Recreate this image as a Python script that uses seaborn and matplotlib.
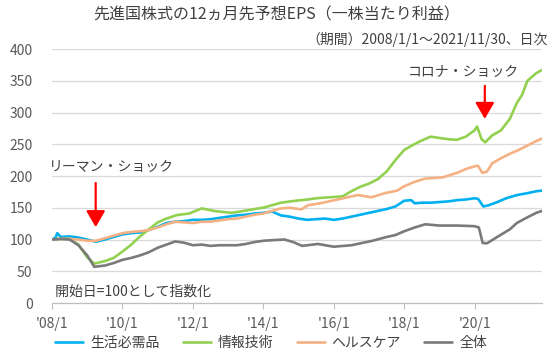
import numpy as np
import pandas as pd
import matplotlib
matplotlib.use("Agg")
import matplotlib.pyplot as plt
import seaborn as sns

# decimal years / index values (2008/1/1 = 100)
t_staples = [2008.0, 2008.1, 2008.15, 2008.25, 2008.5, 2008.75, 2009.0, 2009.25, 2009.5, 2009.75,
             2010.0, 2010.25, 2010.5, 2010.75, 2011.0, 2011.25, 2011.5, 2011.75, 2012.0, 2012.25,
             2012.5, 2012.75, 2013.0, 2013.25, 2013.5, 2013.75, 2014.0, 2014.25, 2014.5, 2014.75,
             2015.0, 2015.25, 2015.5, 2015.75, 2016.0, 2016.25, 2016.5, 2016.75, 2017.0, 2017.25,
             2017.5, 2017.75, 2018.0, 2018.2, 2018.3, 2018.5, 2018.75, 2019.0, 2019.25, 2019.5,
             2019.75, 2020.0, 2020.1, 2020.25, 2020.4, 2020.6, 2020.9, 2021.2, 2021.5, 2021.75, 2021.91]
v_staples = [100, 103, 110, 104, 105, 103, 100, 96.5, 100, 104,
             108, 110, 111, 115, 120, 126, 128, 129, 131, 131,
             132, 134, 136, 138, 139, 141, 142, 144, 138, 136,
             133, 131, 132, 133, 131, 133, 136, 139, 142, 145,
             148, 152, 161, 162, 157, 158, 158, 159, 160, 162,
             163, 165, 164, 152, 154, 158, 165, 170, 173, 176, 177]

t_it = [2008.0, 2008.25, 2008.5, 2008.75, 2009.0, 2009.2, 2009.5, 2009.75,
        2010.0, 2010.25, 2010.5, 2010.75, 2011.0, 2011.25, 2011.55, 2011.9, 2012.25, 2012.6,
        2013.1, 2013.6, 2014.04, 2014.5, 2014.9, 2015.25, 2015.5, 2015.75, 2016.0, 2016.25,
        2016.5, 2016.75, 2017.0, 2017.25, 2017.5, 2017.75, 2018.0, 2018.25, 2018.5, 2018.75,
        2019.0, 2019.25, 2019.5, 2019.75, 2020.0, 2020.07, 2020.2, 2020.3, 2020.5, 2020.75,
        2021.0, 2021.2, 2021.35, 2021.5, 2021.75, 2021.91]
v_it = [100, 101, 101, 92, 72, 62, 66, 71,
        81, 92, 105, 116, 127, 133, 138.6, 141, 149, 145,
        142, 146.5, 150.7, 158, 161, 163, 165, 166, 167, 168,
        176, 183, 188, 195, 207, 225, 241, 249, 256, 262,
        260, 258, 257, 262, 272, 278, 258, 253, 264, 272,
        290, 315, 328, 350, 362, 367]

t_health = [2008.0, 2008.25, 2008.5, 2008.75, 2009.0, 2009.25, 2009.5, 2009.75,
            2010.0, 2010.25, 2010.5, 2010.75, 2011.0, 2011.25, 2011.5, 2011.75, 2012.0, 2012.25,
            2012.5, 2012.75, 2013.0, 2013.25, 2013.5, 2013.75, 2014.0, 2014.25, 2014.5, 2014.75,
            2015.08, 2015.27, 2015.6, 2016.03, 2016.35, 2016.68, 2017.07, 2017.45, 2017.8, 2017.97,
            2018.3, 2018.6, 2018.9, 2019.1, 2019.5, 2019.8, 2020.05, 2020.1, 2020.22, 2020.35,
            2020.5, 2020.75, 2021.0, 2021.25, 2021.5, 2021.75, 2021.91]
v_health = [100, 101, 101, 100, 98, 98, 102, 106,
            110, 112, 113, 115, 119, 124, 128, 127, 126, 128,
            128, 130, 132, 133, 136, 139, 141, 145, 149, 150,
            147.5, 154, 157, 162, 166, 170, 166.5, 173, 177, 183,
            191, 196, 197, 198, 205, 212, 216, 216, 205, 207,
            220, 228, 235, 241, 248, 255, 259]

t_all = [2008.0, 2008.25, 2008.5, 2008.75, 2009.0, 2009.2, 2009.5, 2009.75,
         2010.0, 2010.25, 2010.5, 2010.75, 2011.0, 2011.25, 2011.5, 2011.75, 2012.0, 2012.25,
         2012.5, 2012.75, 2013.0, 2013.25, 2013.5, 2013.75, 2014.0, 2014.25, 2014.6, 2014.85,
         2015.1, 2015.55, 2016.0, 2016.5, 2017.1, 2017.5, 2017.75, 2018.0, 2018.3, 2018.6,
         2019.0, 2019.5, 2020.0, 2020.12, 2020.23, 2020.35, 2020.7, 2021.0, 2021.2, 2021.5,
         2021.75, 2021.91]
v_all = [100, 101, 100, 91, 75, 57, 59, 63,
         68, 71, 75, 80, 87, 92, 97, 95, 91, 92,
         90, 91, 91, 91, 93, 96, 98, 99, 100, 96,
         90, 93, 88.7, 91, 98, 104, 107, 113, 119, 124,
         122, 122, 121, 119, 94.5, 94, 106, 116, 126, 135,
         142, 145]

series_names = ["生活必需品", "情報技術", "ヘルスケア", "全体"]
series_colors = ["#00B0F0", "#92D050", "#F4B183", "#7A7A7A"]

year_ticks = [2008, 2010, 2012, 2014, 2016, 2018, 2020]
year_labels = ["'08/1", "'10/1", "'12/1", "'14/1", "'16/1", "'18/1", "'20/1"]

frames = []
for name, t, v in zip(series_names, [t_staples, t_it, t_health, t_all],
                      [v_staples, v_it, v_health, v_all]):
    frames.append(pd.DataFrame({"year": t, "value": v, "series": name}))
df = pd.concat(frames, ignore_index=True)

sns.set_theme(style="white")
plt.rcParams["font.family"] = ["Noto Sans CJK JP", "DejaVu Sans"]
text_color = "#404040"
tick_color = "#595959"

fig = plt.figure(figsize=(5.51, 3.54), dpi=100)
ax = fig.add_axes([0.0944, 0.144, 0.889, 0.7175])

sns.lineplot(data=df, x="year", y="value", hue="series", hue_order=series_names,
             palette=series_colors, linewidth=1.9, ax=ax, legend=True, estimator=None,
             sort=False)

ax.set_xlim(2008.0, 2021.91)
ax.set_ylim(0, 400)
ax.set_yticks(np.arange(0, 401, 50))
ax.set_xticks(year_ticks)
ax.set_xticklabels(year_labels)
ax.set_xlabel("")
ax.set_ylabel("")
ax.yaxis.grid(True, color="#D9D9D9", linewidth=0.9)
ax.xaxis.grid(False)
for s in ["left", "right", "top"]:
    ax.spines[s].set_visible(False)
ax.spines["bottom"].set_color("#BFBFBF")
ax.spines["bottom"].set_linewidth(0.9)
ax.tick_params(axis="y", length=0, pad=14, labelsize=10, labelcolor=tick_color)
ax.tick_params(axis="x", bottom=True, length=4, width=0.8, color="#BFBFBF", pad=6,
               labelsize=10, labelcolor=tick_color)

handles, labels = ax.get_legend_handles_labels()
ax.get_legend().remove()
fig.legend(handles, labels, loc="center", bbox_to_anchor=(0.492, 0.031), ncol=4,
           frameon=False, fontsize=10, handlelength=2.0, handletextpad=0.5,
           columnspacing=1.7, labelcolor=text_color)

fig.text(0.502, 0.957, "先進国株式の12ヵ月先予想EPS（一株当たり利益）", ha="center", va="center",
         fontsize=11.5, color=text_color)
fig.text(0.995, 0.889, "（期間）2008/1/1～2021/11/30、日次", ha="right", va="center",
         fontsize=10, color=text_color)

ax.text(2008.0, 17.8, " 開始日=100として指数化", ha="left", va="center", fontsize=10,
        color=text_color)
ax.text(2009.69, 214, "リーマン・ショック", ha="center", va="center", fontsize=10, color=text_color)
ax.text(2019.69, 364, "コロナ・ショック", ha="center", va="center", fontsize=10, color=text_color)

arrow_kw = dict(arrowstyle="-|>,head_length=0.55,head_width=0.32", color="#FF0000", lw=1.6,
                mutation_scale=18, shrinkA=0, shrinkB=0)
ax.annotate("", xy=(2009.24, 119.5), xytext=(2009.24, 189), arrowprops=arrow_kw)
ax.annotate("", xy=(2020.29, 290), xytext=(2020.29, 342), arrowprops=arrow_kw)

fig.savefig("out.png", dpi=100)
